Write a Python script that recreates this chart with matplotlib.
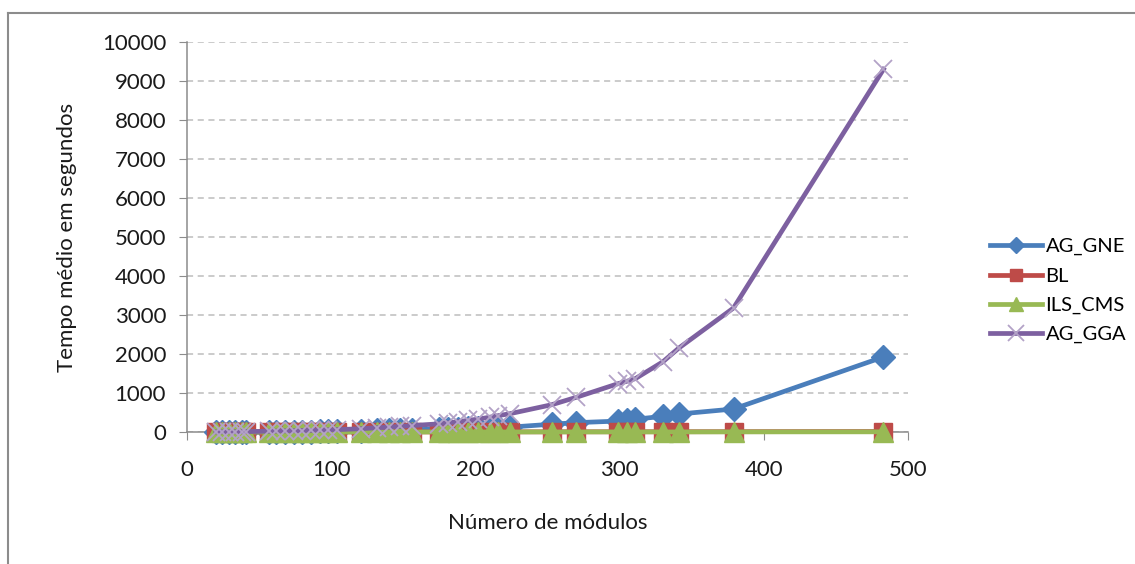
import numpy as np
import matplotlib
matplotlib.use("Agg")
import matplotlib.pyplot as plt
from matplotlib.lines import Line2D

plt.rcParams["font.family"] = ["Lato", "DejaVu Sans"]

# ---------------------------------------------------------------------------
# data
# ---------------------------------------------------------------------------
modulos = [20, 24, 29, 33, 38, 41, 57, 62, 68, 74, 80, 86, 92, 98, 104,
           121, 132, 140, 148, 156, 175, 181, 188, 195, 202, 210, 216, 224,
           253, 270, 299, 305, 311, 330, 341, 379, 483]

ag_gne = [1, 1, 2, 2, 3, 3, 5, 6, 7, 8, 10, 12, 14, 16, 18,
          30, 40, 45, 52, 60, 75, 80, 88, 95, 100, 110, 120, 125,
          200, 240, 280, 300, 330, 400, 460, 590, 1925]

bl = [0, 0, 0, 0, 0, 0, 1, 1, 1, 1, 1, 1, 1, 1, 1,
      2, 2, 2, 2, 2, 3, 3, 3, 3, 3, 3, 4, 4,
      5, 5, 6, 6, 6, 7, 7, 8, 12]

ils_cms = [0, 0, 0, 0, 0, 0, 0, 0, 0, 0, 0, 0, 0, 1, 1,
           1, 1, 1, 1, 1, 1, 1, 1, 1, 1, 1, 1, 1,
           2, 2, 2, 2, 2, 2, 2, 3, 4]

ag_gga = [2, 3, 5, 6, 8, 10, 20, 24, 28, 32, 38, 42, 48, 55, 60,
          85, 110, 125, 145, 165, 210, 235, 265, 300, 330, 380, 420, 470,
          700, 890, 1240, 1300, 1370, 1800, 2150, 3180, 9300]

series = [
    ("AG_GNE", ag_gne, "#4A7EBB", "D", 12),
    ("BL", bl, "#BE4B48", "s", 12.5),
    ("ILS_CMS", ils_cms, "#98B954", "^", 14),
    ("AG_GGA", ag_gga, "#7D60A0", "x", 13),
]

# ---------------------------------------------------------------------------
# figure
# ---------------------------------------------------------------------------
fig = plt.figure(figsize=(11.35, 5.64), dpi=100)
ax = fig.add_axes([187 / 1135, 1 - 432 / 564, (908 - 187) / 1135, (432 - 42) / 564])

handles = []
for k, (name, vals, color, marker, ms) in enumerate(series):
    if marker == "x":
        ax.plot(modulos, vals, color=color, lw=3.4, zorder=3 + k, clip_on=False)
        ax.plot(modulos, vals, ls="none", marker="x", ms=ms, mew=1.3,
                color="#B3A2C7", zorder=3 + k, clip_on=False)
        h = Line2D([], [], color=color, lw=3.4, marker="x", ms=ms * 0.85,
                   mew=1.3, mec="#B3A2C7")
    else:
        ax.plot(modulos, vals, color=color, lw=3.4, marker=marker, ms=ms,
                mec=color, zorder=3 + k, clip_on=False)
        h = Line2D([], [], color=color, lw=3.4, marker=marker, ms=ms * 0.7,
                   mec=color)
    handles.append(h)

ax.set_xlim(0, 500)
ax.set_ylim(0, 10000)
ax.set_xticks(range(0, 501, 100))
ax.set_yticks(range(0, 10001, 1000))
ax.yaxis.grid(True, ls=(0, (4, 3)), color="#BDBDBD", lw=1.1)
ax.set_axisbelow(True)

for s in ("top", "right"):
    ax.spines[s].set_visible(False)
for s in ("left", "bottom"):
    ax.spines[s].set_color("#8C8C8C")
    ax.spines[s].set_linewidth(1.1)
ax.tick_params(axis="both", direction="out", length=6, color="#8C8C8C",
               labelsize=16, colors="#1A1A1A")
ax.tick_params(axis="x", pad=14)
ax.tick_params(axis="y", pad=9)
for t in ax.get_xticklabels() + ax.get_yticklabels():
    t.set_color("#1A1A1A")

ax.set_xlabel("Número de módulos", fontsize=16, labelpad=24, color="#1A1A1A")
ax.set_ylabel("Tempo médio em segundos", fontsize=16, labelpad=18, color="#1A1A1A")

fig.legend(handles, [s[0] for s in series], loc="upper left",
           bbox_to_anchor=(982 / 1135, 1 - 230 / 564), frameon=False,
           fontsize=14.5, handlelength=2.6, handletextpad=0.15,
           labelspacing=0.6, borderaxespad=0)

# outer chart frame (left and top edges visible)
fig.add_artist(Line2D([8 / 1135, 8 / 1135], [0, 1 - 13 / 564],
                      transform=fig.transFigure, color="#8C8C8C", lw=1.5))
fig.add_artist(Line2D([8 / 1135, 1], [1 - 13 / 564, 1 - 13 / 564],
                      transform=fig.transFigure, color="#8C8C8C", lw=1.5))

fig.savefig("out.png", dpi=100)
